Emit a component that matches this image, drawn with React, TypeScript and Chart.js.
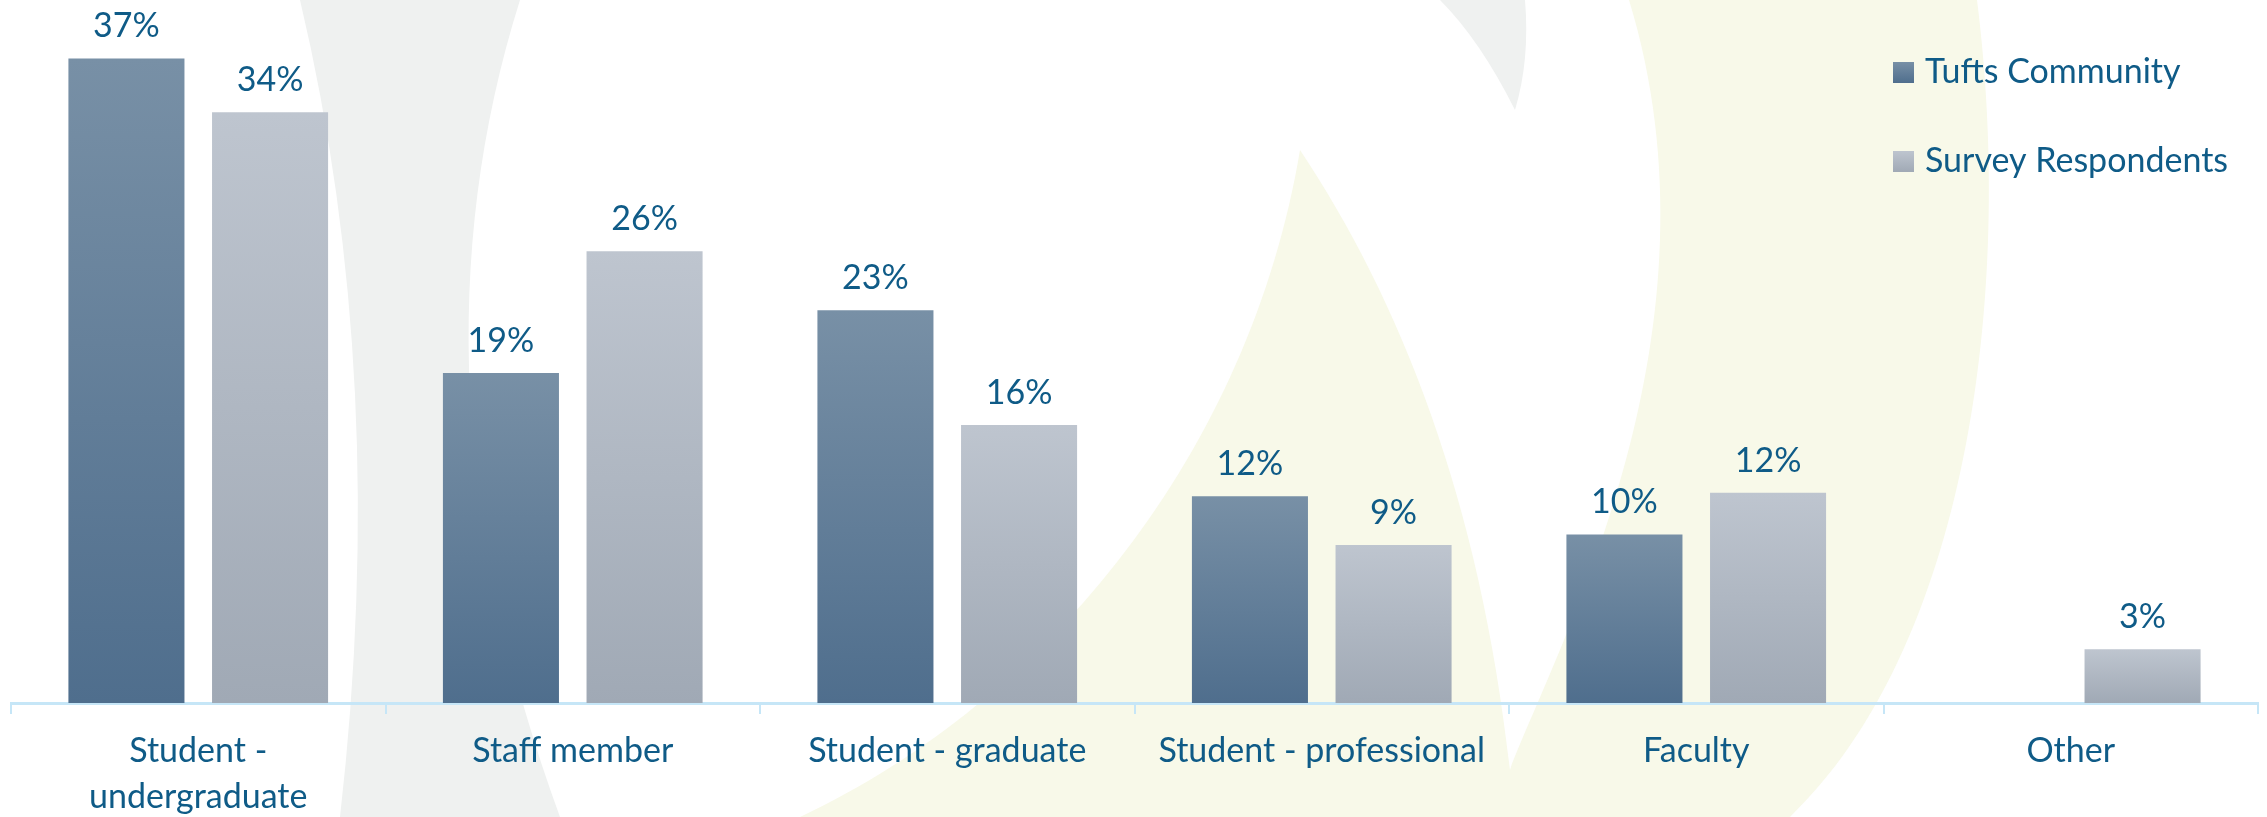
import React, { useEffect, useRef } from "react";
import { Chart, registerables } from "chart.js";

Chart.register(...registerables);

const categories: (string | string[])[] = [
  ["Student -", "undergraduate"],
  "Staff member",
  "Student - graduate",
  "Student - professional",
  "Faculty",
  "Other",
];
const seriesNames = ["Tufts Community", "Survey Respondents"];
const tuftsCommunity: (number | null)[] = [37.1, 19.0, 22.6, 11.9, 9.7, null];
const surveyRespondents: (number | null)[] = [34.0, 26.0, 16.0, 9.1, 12.1, 3.1];
const yMax = 40;

const FONT = "Lato, 'Open Sans', sans-serif";
const FONT_SIZE = 34;
const TEXT = "#0F5B87";
const AXIS = "#C6E6F7";
const gradStops = [
  ["#7890A6", "#4F6E8D"],
  ["#BEC5CF", "#A0A9B5"],
];

function barGradient(ctx: any) {
  const chart = ctx.chart;
  const ds = ctx.datasetIndex ?? 0;
  const stops = gradStops[ds];
  if (!chart.chartArea || ctx.type !== "data") return stops[1];
  const v = ctx.raw;
  if (v == null) return stops[1];
  const ys = chart.scales.y;
  const top = ys.getPixelForValue(v);
  const base = ys.getPixelForValue(0);
  const g = chart.ctx.createLinearGradient(0, top, 0, base);
  g.addColorStop(0, stops[0]);
  g.addColorStop(1, stops[1]);
  return g;
}

const backgroundPlugin = {
  id: "bgSwirl",
  beforeDraw(chart: any) {
    const c = chart.ctx;
    const sx = chart.width / 2267;
    const sy = chart.height / 817;
    const P = (x: number, y: number) => [x * sx, y * sy];
    c.save();
    c.fillStyle = "#FFFFFF";
    c.fillRect(0, 0, chart.width, chart.height);
    // yellow crescent
    c.fillStyle = "#F8F9E9";
    c.beginPath();
    c.moveTo(...P(1629, 0));
    c.lineTo(...P(1977, 0));
    c.bezierCurveTo(...P(2015, 300), ...P(1965, 650), ...P(1790, 817));
    c.lineTo(...P(800, 817));
    c.bezierCurveTo(...P(1050, 700), ...P(1250, 450), ...P(1300, 150));
    c.bezierCurveTo(...P(1400, 300), ...P(1480, 500), ...P(1510, 770));
    c.bezierCurveTo(...P(1560, 640), ...P(1730, 330), ...P(1629, 0));
    c.closePath();
    c.fill();
    // gray band left
    c.fillStyle = "#EFF1F0";
    c.beginPath();
    c.moveTo(...P(300, 0));
    c.quadraticCurveTo(...P(390, 380), ...P(340, 817));
    c.lineTo(...P(560, 817));
    c.quadraticCurveTo(...P(400, 380), ...P(520, 0));
    c.closePath();
    c.fill();
    // small gray swoosh top
    c.beginPath();
    c.moveTo(...P(1440, 0));
    c.lineTo(...P(1525, 0));
    c.quadraticCurveTo(...P(1530, 60), ...P(1515, 110));
    c.quadraticCurveTo(...P(1480, 40), ...P(1440, 0));
    c.fill();
    c.restore();
  },
};

const labelPlugin = {
  id: "valueLabels",
  afterDatasetsDraw(chart: any) {
    const c = chart.ctx;
    c.save();
    c.font = `${FONT_SIZE}px ${FONT}`;
    c.fillStyle = TEXT;
    c.textAlign = "center";
    c.textBaseline = "alphabetic";
    chart.data.datasets.forEach((ds: any, i: number) => {
      const meta = chart.getDatasetMeta(i);
      meta.data.forEach((bar: any, j: number) => {
        const v = ds.data[j];
        if (v == null) return;
        c.fillText(`${Math.round(v)}%`, bar.x, bar.y - 21);
      });
    });
    c.restore();
  },
};

const legendPlugin = {
  id: "customLegend",
  afterDraw(chart: any) {
    const c = chart.ctx;
    const x0 = chart.width - 374;
    const y0 = 83;
    const gap = 89;
    const size = 21;
    c.save();
    c.font = `${FONT_SIZE}px ${FONT}`;
    c.textAlign = "left";
    c.textBaseline = "alphabetic";
    seriesNames.forEach((name, i) => {
      const yb = y0 + i * gap;
      const g = c.createLinearGradient(0, yb - size, 0, yb);
      g.addColorStop(0, gradStops[i][0]);
      g.addColorStop(1, gradStops[i][1]);
      c.fillStyle = g;
      c.fillRect(x0, yb - size, size, size);
      c.fillStyle = TEXT;
      c.fillText(name, x0 + 32, yb);
    });
    c.restore();
  },
};

export default function App() {
  const ref = useRef<HTMLCanvasElement | null>(null);
  useEffect(() => {
    if (!ref.current) return;
    const chart = new Chart(ref.current, {
      type: "bar",
      data: {
        labels: categories,
        datasets: [
          {
            label: seriesNames[0],
            data: tuftsCommunity,
            backgroundColor: barGradient,
            categoryPercentage: 0.767,
            barPercentage: 0.808,
          },
          {
            label: seriesNames[1],
            data: surveyRespondents,
            backgroundColor: barGradient,
            categoryPercentage: 0.767,
            barPercentage: 0.808,
          },
        ] as any,
      },
      options: {
        animation: false,
        responsive: true,
        maintainAspectRatio: false,
        devicePixelRatio: 1,
        layout: { padding: { left: 11, right: 9, top: 8, bottom: 0 } },
        plugins: {
          legend: { display: false },
          tooltip: { enabled: false },
          title: { display: false },
        },
        scales: {
          y: {
            display: false,
            min: 0,
            max: yMax,
          },
          x: {
            offset: true,
            grid: {
              display: true,
              offset: true,
              drawOnChartArea: false,
              drawTicks: true,
              tickLength: 11,
              color: AXIS,
              lineWidth: 2,
            },
            border: { display: true, color: AXIS, width: 3 },
            ticks: {
              color: TEXT,
              font: { family: FONT, size: FONT_SIZE, lineHeight: 1.35 },
              padding: 14,
              maxRotation: 0,
              autoSkip: false,
            },
            afterFit: (scale: any) => {
              scale.height = 114;
            },
          },
        },
      },
      plugins: [backgroundPlugin, labelPlugin, legendPlugin],
    });
    return () => chart.destroy();
  }, []);
  return (
    <div style={{ position: "absolute", left: 0, top: 0, width: 2267, height: 817 }}>
      <canvas ref={ref} />
    </div>
  );
}
